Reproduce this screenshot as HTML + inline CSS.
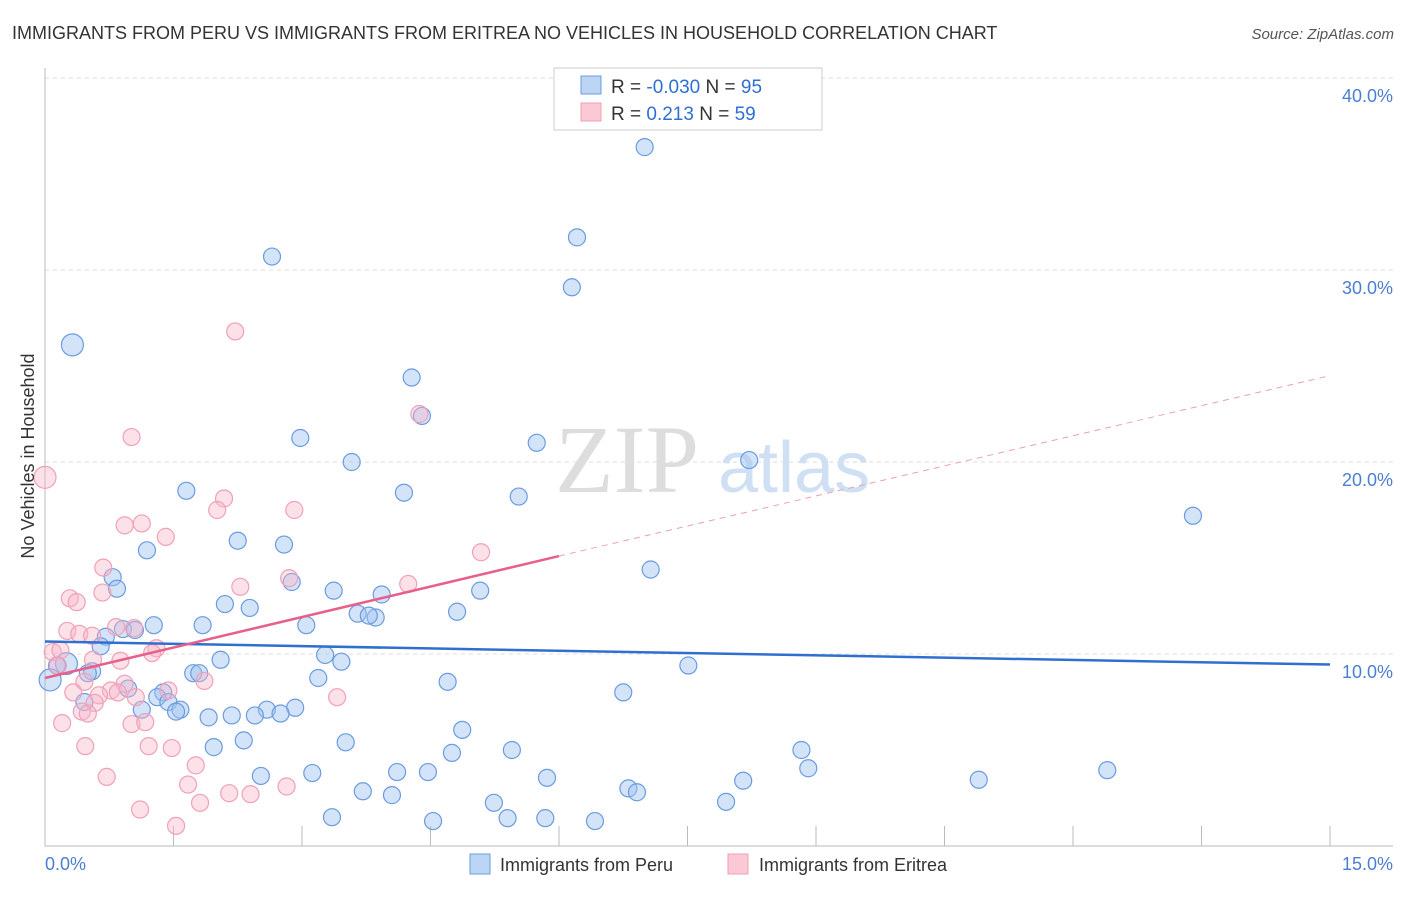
<!DOCTYPE html>
<html><head><meta charset="utf-8"><style>
body{margin:0;background:#fff;font-family:"Liberation Sans",sans-serif}
</style></head><body>
<svg id="chart" width="1406" height="892" xmlns="http://www.w3.org/2000/svg">
<text x="12" y="39" font-size="18" fill="#333">IMMIGRANTS FROM PERU VS IMMIGRANTS FROM ERITREA NO VEHICLES IN HOUSEHOLD CORRELATION CHART</text>
<text x="1394" y="39" font-size="15" fill="#555" font-style="italic" text-anchor="end">Source: ZipAtlas.com</text>
<text x="555" y="492" font-size="96" fill="#ddd" font-family="Liberation Serif,serif">ZIP</text>
<text x="718" y="492" font-size="72" fill="#cfe0f5">atlas</text>
<g id="grid"></g><g id="axes"></g><g id="pts"></g><g id="lines"></g>
<text transform="translate(34,456) rotate(-90)" font-size="18" fill="#333" text-anchor="middle">No Vehicles in Household</text>
<text x="45" y="870" font-size="18" fill="#4a7fd0">0.0%</text>
<text x="1393" y="870" font-size="18" fill="#4a7fd0" text-anchor="end">15.0%</text>
<g>
<rect x="554" y="68" width="268" height="62" fill="#fff" stroke="#ccc"/>
<rect x="581" y="76" width="20" height="18" fill="#bcd5f5" stroke="#6a9be0"/>
<rect x="581" y="103" width="20" height="18" fill="#fbc8d6" stroke="#f0a0b8"/>
<text x="611" y="93" font-size="19" fill="#333">R = <tspan fill="#2f6fd0">-0.030</tspan>   N = <tspan fill="#2f6fd0">95</tspan></text>
<text x="611" y="120" font-size="19" fill="#333">R =   <tspan fill="#2f6fd0">  0.213</tspan>   N = <tspan fill="#2f6fd0">59</tspan></text>
</g>
<g>
<rect x="470" y="854" width="20" height="20" fill="#bcd5f5" stroke="#6a9be0"/>
<text x="500" y="871" font-size="18" fill="#333">Immigrants from Peru</text>
<rect x="728" y="854" width="20" height="20" fill="#fbc8d6" stroke="#f0a0b8"/>
<text x="759" y="871" font-size="18" fill="#333">Immigrants from Eritrea</text>
</g>
</svg>
<script>
const yTicks=[10,20,30,40];
const yTickLabels=["10.0%","20.0%","30.0%","40.0%"];
const xTicks=[0,1.5,3,4.5,6,7.5,9,10.5,12,13.5,15];
const peruX=[7.00,6.21,6.15,2.65,0.32,4.28,4.40,2.98,5.74,3.58,8.22,1.65,4.19,5.53,13.40,2.25,2.79,1.19,7.07,0.79,0.84,2.88,3.37,3.93,5.08,2.10,2.39,4.81,3.65,3.86,3.78,1.84,3.05,1.27,0.91,1.05,0.71,0.65,3.27,3.46,2.05,0.25,0.14,0.55,1.73,1.80,0.50,7.51,0.06,3.19,4.70,0.97,1.38,6.75,1.31,1.44,0.46,1.13,1.58,1.53,2.92,2.59,2.75,2.45,2.18,1.91,4.87,2.32,3.51,1.97,5.45,4.75,8.83,8.91,12.40,3.12,2.52,4.11,4.47,5.86,8.15,10.90,6.81,6.91,3.71,4.05,5.24,7.95,3.35,5.40,5.84,4.53,6.42];
const peruY=[36.4,31.7,29.1,30.7,26.1,24.4,22.4,21.25,21.0,20.0,20.1,18.5,18.4,18.2,17.2,15.9,15.7,15.4,14.4,14.0,13.4,13.75,13.3,13.1,13.3,12.6,12.4,12.2,12.1,11.9,12.0,11.5,11.5,11.5,11.3,11.25,10.9,10.4,9.95,9.6,9.7,9.5,9.4,9.1,9.0,9.0,9.0,9.4,8.65,8.75,8.55,8.2,8.0,8.0,7.75,7.5,7.5,7.1,7.1,7.0,7.2,7.1,6.9,6.8,6.8,6.7,6.05,5.5,5.4,5.15,5.0,4.85,5.0,4.05,3.95,3.8,3.65,3.85,3.85,3.55,3.4,3.45,3.0,2.8,2.85,2.65,2.25,2.3,1.5,1.45,1.45,1.3,1.3];
const peruBig=[4,41,48];
const eritX=[2.22,1.01,4.37,0.0,2.09,2.01,2.91,1.13,0.93,1.41,5.09,0.68,2.85,2.28,4.24,0.67,0.29,0.37,0.83,1.04,0.26,0.40,0.55,1.30,1.25,0.09,0.18,0.15,0.88,0.56,1.86,0.93,0.46,0.77,0.85,1.44,0.63,0.33,1.06,3.41,0.58,0.43,0.50,1.01,1.17,0.20,0.47,1.21,1.48,1.76,0.72,1.67,2.82,2.15,2.40,1.81,1.11,1.53];
const eritY=[26.8,21.3,22.5,19.2,18.1,17.5,17.5,16.8,16.7,16.1,15.3,14.5,13.95,13.5,13.65,13.2,12.9,12.7,11.4,11.35,11.2,11.05,10.95,10.3,10.05,10.1,10.2,9.4,9.65,9.7,8.6,8.45,8.55,8.1,8.0,8.1,7.85,8.0,7.75,7.75,7.45,7.0,6.9,6.35,6.45,6.4,5.2,5.2,5.1,4.2,3.6,3.2,3.1,2.75,2.7,2.25,1.9,1.05];
const eritBig=[3];
const peruTrend=[10.65,9.45];
const eritTrend=[8.75,15.1,24.5];
const NS="http://www.w3.org/2000/svg";
const xs=v=>45+v/15*1285, ys=v=>846-v*19.2;
function mk(tag,a,parent){const e=document.createElementNS(NS,tag);for(const k in a)e.setAttribute(k,a[k]);document.getElementById(parent).appendChild(e);return e;}
yTicks.forEach((t,i)=>{
 const g=mk('line',{x1:45,x2:1393,y1:ys(t),y2:ys(t),stroke:'#ddd','stroke-dasharray':'4,4'},'grid');
 
 
 const l=mk('text',{x:1393,y:ys(t)+24,'font-size':18,fill:'#4a7fd0','text-anchor':'end'},'grid');
 l.textContent=yTickLabels[i];
 
 
});
const ax=mk('line',{x1:45,x2:45,y1:68,y2:846,stroke:'#bbb'},'axes');


const bx=mk('line',{x1:45,x2:1393,y1:846,y2:846,stroke:'#bbb'},'axes');


xTicks.forEach(t=>{
 const k=mk('line',{x1:xs(t),x2:xs(t),y1:826,y2:846,stroke:'#bbb'},'axes');
 
 
});
function pts(X,Y,big,fill,stroke,name){
 X.forEach((x,i)=>{
  const c=mk('circle',{cx:xs(x),cy:ys(Y[i]),r:big.includes(i)?11:8.5,fill:fill,stroke:stroke,'stroke-width':1.2},'pts');
  
  
 });
}
pts(peruX,peruY,peruBig,'rgba(160,196,240,0.45)','#6a9be0','peru-point');
pts(eritX,eritY,eritBig,'rgba(248,180,200,0.4)','#f0a0b8','eritrea-point');
const pl=mk('line',{x1:xs(0),y1:ys(peruTrend[0]),x2:xs(15),y2:ys(peruTrend[1]),stroke:'#2f6fd0','stroke-width':2.5},'lines');


const el=mk('line',{x1:xs(0),y1:ys(eritTrend[0]),x2:xs(6),y2:ys(eritTrend[1]),stroke:'#e8608a','stroke-width':2.5},'lines');


const ed=mk('line',{x1:xs(6),y1:ys(eritTrend[1]),x2:xs(15),y2:ys(eritTrend[2]),stroke:'#e8a0b5','stroke-width':1,'stroke-dasharray':'6,5'},'lines');


</script>
</body></html>
